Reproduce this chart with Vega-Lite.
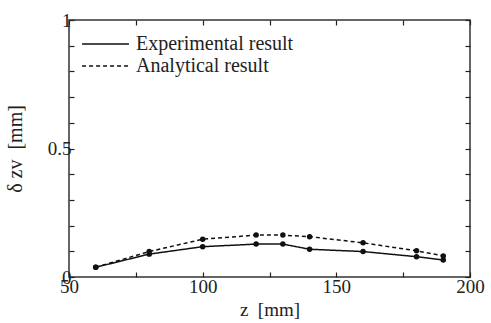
{
  "$schema": "https://vega.github.io/schema/vega-lite/v6.json",
  "width": 401,
  "height": 257,
  "autosize": "none",
  "padding": {"left": 69, "top": 20, "right": 21, "bottom": 46},
  "background": "white",
  "config": {
    "font": "Liberation Serif",
    "view": {"stroke": "#333", "strokeWidth": 1.5},
    "axis": {"grid": false, "domain": false, "ticks": true, "zindex": 1, "tickColor": "#222", "tickSize": -5, "tickWidth": 1.2, "labelFont": "Liberation Serif", "labelFontSize": 19, "labelColor": "#222", "titleFont": "Liberation Serif", "titleFontSize": 19, "titleFontWeight": "normal", "titleColor": "#222"},
    "legend": {"labelFont": "Liberation Serif"}
  },
  "data": {
    "values": [
      {"z": 60, "d": 0.038, "series": "Experimental result"},
      {"z": 80, "d": 0.089, "series": "Experimental result"},
      {"z": 100, "d": 0.118, "series": "Experimental result"},
      {"z": 120, "d": 0.128, "series": "Experimental result"},
      {"z": 130, "d": 0.128, "series": "Experimental result"},
      {"z": 140, "d": 0.108, "series": "Experimental result"},
      {"z": 160, "d": 0.099, "series": "Experimental result"},
      {"z": 180, "d": 0.079, "series": "Experimental result"},
      {"z": 190, "d": 0.066, "series": "Experimental result"},
      {"z": 60, "d": 0.038, "series": "Analytical result"},
      {"z": 80, "d": 0.099, "series": "Analytical result"},
      {"z": 100, "d": 0.147, "series": "Analytical result"},
      {"z": 120, "d": 0.163, "series": "Analytical result"},
      {"z": 130, "d": 0.163, "series": "Analytical result"},
      {"z": 140, "d": 0.157, "series": "Analytical result"},
      {"z": 160, "d": 0.133, "series": "Analytical result"},
      {"z": 180, "d": 0.102, "series": "Analytical result"},
      {"z": 190, "d": 0.082, "series": "Analytical result"}
    ]
  },
  "layer": [
    {
      "mark": {"type": "line", "color": "#111", "strokeWidth": 1.5},
      "encoding": {
        "x": {"field": "z", "type": "quantitative", "scale": {"domain": [50, 200], "nice": false},
          "axis": {"orient": "bottom", "values": [50, 75, 100, 125, 150, 175, 200], "ticks": true, "tickSize": -5, "zindex": 1, "labelExpr": "datum.value % 50 === 0 ? datum.label : ''", "labelPadding": 5, "title": "z\u00a0\u00a0[mm]", "titlePadding": 4, "labelFlush": false}},
        "y": {"field": "d", "type": "quantitative", "scale": {"domain": [0, 1], "nice": false},
          "axis": {"orient": "left", "values": [0, 0.1, 0.2, 0.3, 0.4, 0.5, 0.6, 0.7, 0.8, 0.9, 1], "ticks": true, "tickSize": -5, "zindex": 1, "labelExpr": "datum.value === 0 ? '0' : datum.value === 0.5 ? '0.5' : datum.value === 1 ? '1' : ''", "labelPadding": 3, "title": "δ\u00a0zv\u00a0\u00a0[mm]", "titlePadding": 22, "titleFontSize": 20, "labelFlush": false}},
        "strokeDash": {"field": "series", "type": "nominal",
          "scale": {"domain": ["Experimental result", "Analytical result"], "range": [[1, 0], [4, 3]]},
          "legend": {"title": null, "orient": "none", "legendX": 12, "legendY": 14, "symbolType": "stroke", "symbolSize": 2200, "symbolStrokeWidth": 1.5, "symbolStrokeColor": "#111", "labelFont": "Liberation Serif", "labelFontSize": 20, "labelColor": "#222", "rowPadding": 2, "clipHeight": 20, "labelOffset": 6}}
      }
    },
    {
      "mark": {"type": "point", "filled": true, "color": "#111", "size": 30, "opacity": 1},
      "encoding": {
        "x": {"field": "z", "type": "quantitative", "axis": null},
        "y": {"field": "d", "type": "quantitative", "axis": null},
        "detail": {"field": "series"}
      }
    },
    {
      "mark": {"type": "rule", "opacity": 0},
      "encoding": {
        "x": {"field": "z", "type": "quantitative", "axis": {"orient": "top", "values": [50, 75, 100, 125, 150, 175, 200], "ticks": true, "tickSize": -5, "zindex": 1, "labels": false, "title": null}},
        "y": {"field": "d", "type": "quantitative", "axis": {"orient": "right", "values": [0, 0.1, 0.2, 0.3, 0.4, 0.5, 0.6, 0.7, 0.8, 0.9, 1], "ticks": true, "tickSize": -5, "zindex": 1, "labels": false, "title": null}}
      }
    }
  ],
  "resolve": {"axis": {"x": "independent", "y": "independent"}}
}
